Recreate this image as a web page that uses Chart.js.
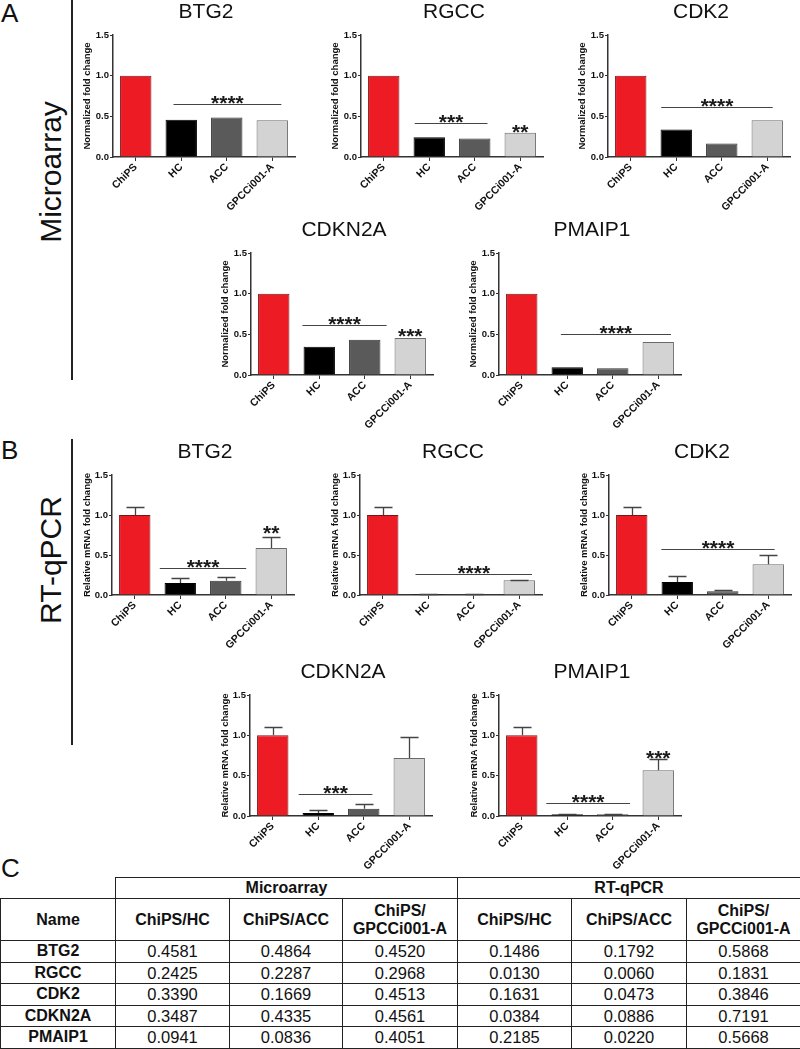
<!DOCTYPE html>
<html>
<head>
<meta charset="utf-8">
<script src="https://cdn.jsdelivr.net/npm/chart.js@4.4.1/dist/chart.umd.min.js"></script>
<style>
html,body{margin:0;padding:0;background:#fff;}
#page{position:relative;width:800px;height:1049px;overflow:hidden;font-family:'Liberation Sans',Arial,Helvetica,sans-serif;color:#111;}
#page canvas{position:absolute;}
.letter{position:absolute;left:1px;font-size:26px;line-height:26px;}
.vline{position:absolute;left:71px;width:1.5px;background:#222;}
.side{position:absolute;width:220px;height:36px;line-height:36px;font-size:30px;text-align:center;transform:rotate(-90deg);white-space:nowrap;}
#tbl{position:absolute;left:0;top:877px;width:800px;border-collapse:collapse;table-layout:fixed;font-size:16.5px;}
#tbl td{border:1px solid #222;text-align:center;padding:0;line-height:18px;}
#tbl td.b{font-weight:bold;font-size:16px;}
</style>
</head>
<body>
<div id="page">
  <div class="letter" style="top:0px;">A</div>
  <div class="letter" style="top:437px;">B</div>
  <div class="letter" style="top:855px;">C</div>
  <div class="vline" style="top:0px;height:380px;"></div>
  <div class="vline" style="top:439px;height:306px;"></div>
  <div class="side" style="left:-59px;top:154px;">Microarray</div>
  <div class="side" style="left:-59px;top:542px;">RT-qPCR</div>
  <table id="tbl"></table>
</div>
<script>
// ---------- data ----------
const groups = ['ChiPS', 'HC', 'ACC', 'GPCCi001-A'];
const yTicks = [0, 0.5, 1.0, 1.5];

// Microarray normalized fold change
const microBTG2   = [1, 0.4581, 0.4864, 0.4520];
const microRGCC   = [1, 0.2425, 0.2287, 0.2968];
const microCDK2   = [1, 0.3390, 0.1669, 0.4513];
const microCDKN2A = [1, 0.3487, 0.4335, 0.4561];
const microPMAIP1 = [1, 0.0941, 0.0836, 0.4051];

// RT-qPCR relative mRNA fold change and upper error (SEM)
const rtBTG2   = [1, 0.1486, 0.1792, 0.5868];
const rtBTG2Err   = [0.10, 0.06, 0.04, 0.14];
const rtRGCC   = [1, 0.0130, 0.0060, 0.1831];
const rtRGCCErr   = [0.10, 0.005, 0.003, 0.01];
const rtCDK2   = [1, 0.1631, 0.0473, 0.3846];
const rtCDK2Err   = [0.10, 0.07, 0.015, 0.115];
const rtCDKN2A = [1, 0.0384, 0.0886, 0.7191];
const rtCDKN2AErr = [0.10, 0.03, 0.057, 0.265];
const rtPMAIP1 = [1, 0.022, 0.022, 0.5668];
const rtPMAIP1Err = [0.10, 0.006, 0.006, 0.135];

// significance marks: [from category, to category, level (data units), stars, draw line]
const sigMicroBTG2   = [[0.83, 3.2, 0.65, '****', true]];
const sigMicroRGCC   = [[0.68, 2.28, 0.42, '***', true], [3, 3, 0.2968, '**', false]];
const sigMicroCDK2   = [[0.67, 3.12, 0.61, '****', true]];
const sigMicroCDKN2A = [[0.63, 2.48, 0.61, '****', true], [3, 3, 0.47, '***', false]];
const sigMicroPMAIP1 = [[0.86, 3.28, 0.50, '****', true]];
const sigRtBTG2   = [[0.55, 2.45, 0.34, '****', true], [3, 3, 0.76, '**', false]];
const sigRtRGCC   = [[0.72, 3.28, 0.26, '****', true]];
const sigRtCDK2   = [[0.65, 3.14, 0.57, '****', true]];
const sigRtCDKN2A = [[0.57, 2.19, 0.275, '***', true]];
const sigRtPMAIP1 = [[0.54, 2.38, 0.165, '****', true], [3, 3, 0.71, '***', false]];

// table (panel C)
const tableNames = ['BTG2', 'RGCC', 'CDK2', 'CDKN2A', 'PMAIP1'];
const tableMicroHC   = ['0.4581', '0.2425', '0.3390', '0.3487', '0.0941'];
const tableMicroACC  = ['0.4864', '0.2287', '0.1669', '0.4335', '0.0836'];
const tableMicroGPCC = ['0.4520', '0.2968', '0.4513', '0.4561', '0.4051'];
const tableRtHC   = ['0.1486', '0.0130', '0.1631', '0.0384', '0.2185'];
const tableRtACC  = ['0.1792', '0.0060', '0.0473', '0.0886', '0.0220'];
const tableRtGPCC = ['0.5868', '0.1831', '0.3846', '0.7191', '0.5668'];

// ---------- drawing ----------
const FONT = "'Liberation Sans', Arial, Helvetica, sans-serif";
const barColors  = ['#ED1C24', '#000000', '#5A5A5A', '#D3D3D3'];
const barBorders = ['#7a1515', '#000000', '#333333', '#6a6a6a'];
const page = document.getElementById('page');

const annotPlugin = {
  id: 'annot',
  afterDatasetsDraw(chart, args, opts) {
    const ctx = chart.ctx, xs = chart.scales.x, ys = chart.scales.y;
    ctx.save();
    if (opts.errors) {
      ctx.strokeStyle = '#444'; ctx.lineWidth = 1.3;
      opts.errors.forEach((e, i) => {
        const cx = Math.round(xs.getPixelForValue(i)) + 0.5;
        const y0 = ys.getPixelForValue(opts.values[i]);
        const y1 = Math.round(ys.getPixelForValue(opts.values[i] + e)) + 0.5;
        ctx.beginPath();
        ctx.moveTo(cx, y0); ctx.lineTo(cx, y1);
        ctx.moveTo(cx - 9, y1); ctx.lineTo(cx + 9, y1);
        ctx.stroke();
      });
    }
    (opts.sigs || []).forEach(s => {
      const [from, to, lvl, txt, line] = s;
      const yp = ys.getPixelForValue(lvl);
      const x0 = xs.getPixelForValue(from), x1 = xs.getPixelForValue(to);
      if (line) {
        ctx.strokeStyle = '#444'; ctx.lineWidth = 1.2;
        ctx.beginPath();
        ctx.moveTo(x0, Math.round(yp) + 0.5); ctx.lineTo(x1, Math.round(yp) + 0.5);
        ctx.stroke();
      }
      ctx.fillStyle = '#1a1a1a';
      ctx.font = 'bold 21px ' + FONT;
      ctx.textAlign = 'center'; ctx.textBaseline = 'alphabetic';
      ctx.fillText(txt, (x0 + x1) / 2, yp + 6);
    });
    ctx.restore();
  }
};

const PW = 182, YW = 40, TH = 35, XH = 62, RW = 44;

function makeChart(axisX, plotTop, plotH, title, yTitle, yTitleOff, values, errors, sigs) {
  const c = document.createElement('canvas');
  c.width = YW + PW + RW;
  c.height = TH + plotH + XH;
  c.style.left = (axisX - YW) + 'px';
  c.style.top = (plotTop - TH) + 'px';
  page.appendChild(c);
  new Chart(c, {
    type: 'bar',
    data: {
      labels: groups,
      datasets: [{
        data: values,
        backgroundColor: barColors,
        borderColor: barBorders,
        borderWidth: 1,
        barPercentage: 0.69,
        categoryPercentage: 1
      }]
    },
    options: {
      responsive: false,
      animation: false,
      devicePixelRatio: 1,
      events: [],
      layout: { padding: 0 },
      plugins: {
        legend: { display: false },
        tooltip: { enabled: false },
        title: {
          display: true, text: title, color: '#111',
          font: { family: FONT, size: 21, weight: 'normal', lineHeight: 1.2 },
          padding: { top: 0, bottom: TH - 25.2 }
        },
        annot: { values: values, errors: errors, sigs: sigs }
      },
      scales: {
        x: {
          grid: { display: true, drawOnChartArea: false, drawTicks: true, tickLength: 4, offset: false, color: '#333', lineWidth: 1 },
          border: { display: true, color: '#333', width: 1.5 },
          ticks: { autoSkip: false, minRotation: 45, maxRotation: 45, padding: 0, color: '#111',
                   font: { family: FONT, size: 10.5, weight: 'bold' } },
          afterFit: s => { s.height = XH; }
        },
        y: {
          min: 0, max: 1.5,
          afterBuildTicks: s => { s.ticks = yTicks.map(v => ({ value: v })); },
          ticks: { padding: 1, color: '#111', callback: v => Number(v).toFixed(1),
                   font: { family: FONT, size: 9.5, weight: 'bold' } },
          grid: { display: true, drawOnChartArea: false, drawTicks: true, tickLength: 3, color: '#333', lineWidth: 1 },
          border: { display: true, color: '#333', width: 1.5 },
          title: { display: true, text: yTitle, color: '#111',
                   font: { family: FONT, size: 9.5, weight: 'bold', lineHeight: 1.2 },
                   padding: { top: YW - yTitleOff - 5.7, bottom: 0 } },
          afterFit: s => { s.width = YW; }
        },
        yR: {
          type: 'linear', position: 'right', display: true,
          grid: { display: false, drawTicks: false },
          border: { display: false },
          ticks: { display: false },
          afterFit: s => { s.width = RW; }
        }
      }
    },
    plugins: [annotPlugin]
  });
}

const MT = 'Normalized fold change', RT = 'Relative mRNA fold change';
makeChart(113, 35, 122, 'BTG2', MT, 25.5, microBTG2, null, sigMicroBTG2);
makeChart(361, 35, 122, 'RGCC', MT, 25.5, microRGCC, null, sigMicroRGCC);
makeChart(608, 35, 122, 'CDK2', MT, 25.5, microCDK2, null, sigMicroCDK2);
makeChart(251, 253, 122, 'CDKN2A', MT, 25.5, microCDKN2A, null, sigMicroCDKN2A);
makeChart(499, 253, 122, 'PMAIP1', MT, 25.5, microPMAIP1, null, sigMicroPMAIP1);
makeChart(112, 475, 120, 'BTG2', RT, 24.5, rtBTG2, rtBTG2Err, sigRtBTG2);
makeChart(360, 475, 120, 'RGCC', RT, 24.5, rtRGCC, rtRGCCErr, sigRtRGCC);
makeChart(609, 475, 120, 'CDK2', RT, 24.5, rtCDK2, rtCDK2Err, sigRtCDK2);
makeChart(250, 695, 121, 'CDKN2A', RT, 24.5, rtCDKN2A, rtCDKN2AErr, sigRtCDKN2A);
makeChart(499, 695, 121, 'PMAIP1', RT, 24.5, rtPMAIP1, rtPMAIP1Err, sigRtPMAIP1);

// ---------- table ----------
const colW = [115, 114, 113, 115, 114, 115, 114];
const tbl = document.getElementById('tbl');
let html = '<colgroup>' + colW.map(w => '<col style="width:' + w + 'px">').join('') + '</colgroup>';
html += '<tr style="height:21px"><td style="border:none;border-bottom:1px solid #222"></td>' +
        '<td class="b" colspan="3">Microarray</td><td class="b" colspan="3">RT-qPCR</td></tr>';
html += '<tr style="height:42px"><td class="b">Name</td><td class="b">ChiPS/HC</td><td class="b">ChiPS/ACC</td>' +
        '<td class="b">ChiPS/<br>GPCCi001-A</td><td class="b">ChiPS/HC</td><td class="b">ChiPS/ACC</td>' +
        '<td class="b">ChiPS/<br>GPCCi001-A</td></tr>';
tableNames.forEach((n, i) => {
  html += '<tr style="height:21.5px"><td class="b">' + n + '</td><td>' + tableMicroHC[i] + '</td><td>' +
          tableMicroACC[i] + '</td><td>' + tableMicroGPCC[i] + '</td><td>' + tableRtHC[i] + '</td><td>' +
          tableRtACC[i] + '</td><td>' + tableRtGPCC[i] + '</td></tr>';
});
tbl.innerHTML = html;
</script>
</body>
</html>
